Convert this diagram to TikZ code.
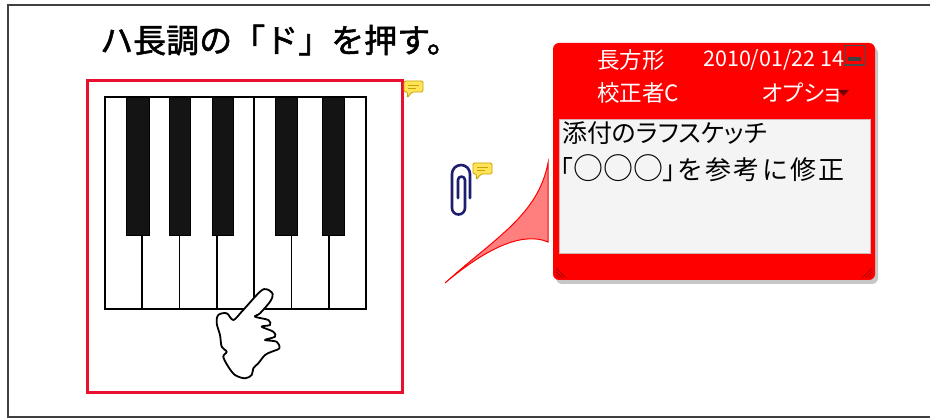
\documentclass[tikz,border=0pt]{standalone}
\usepackage{fontspec}
\newfontfamily\jp{Noto Sans CJK JP}
\newfontfamily\jpbold[FakeBold=1.6]{Noto Sans CJK JP}
\newfontfamily\jpp[CharacterWidth=AlternateProportional]{Noto Sans CJK JP}
\newfontfamily\jpwide[LetterSpace=9]{Noto Sans CJK JP}
\usetikzlibrary{calc}
\definecolor{framered}{HTML}{E8102E}
\definecolor{notered}{HTML}{FF0000}
\definecolor{notebody}{HTML}{F4F4F4}
\definecolor{clipblue}{HTML}{1E1E70}
\definecolor{bubblefill}{HTML}{FFE45A}
\definecolor{bubbleline}{HTML}{C9A100}
\definecolor{framegray}{HTML}{404040}
\definecolor{gripred}{HTML}{9A0000}
\begin{document}
\begin{tikzpicture}[x=1pt,y=-1pt,
  keyline/.style={draw=black,line width=1.7pt},
  blackkey/.style={fill=black!92,draw=black,line width=0.6pt},
  headtext/.style={text=white,font=\jp\fontsize{22.5}{22.5}\selectfont,anchor=west,inner sep=0pt},
  gripline/.style={draw=gripred,line width=0.7pt},
  cmticon/.pic={
    \fill[bubblefill,draw=bubbleline,line width=0.8pt,rounded corners=1.5pt]
      (0,0) -- (19,0) -- (19,11) -- (8,11) -- (3,17) -- (4,11) -- (0,11) -- cycle;
    \draw[bubbleline,line width=0.9pt] (4,4) -- (15,4) (4,7.5) -- (12,7.5);
  }]
\useasboundingbox (0,0) rectangle (930,419);
\clip (0,0) rectangle (930,419);
\fill[white] (0,0) rectangle (930,419);
% page frame
\draw[framegray,line width=1.6pt] (8,5) rectangle (960,417);

% heading
\node[anchor=west,inner sep=0pt,font=\jpbold\fontsize{33}{33}\selectfont] (title) at (100,40) {ハ長調の「ド」を押す。};

% red selection frame around the keyboard
\node[draw=framered,line width=3pt,minimum width=315pt,minimum height=312pt,inner sep=0pt] (frame) at (244.5,237) {};
\pic at (404,81) {cmticon};

% keyboard: seven white keys, five black keys
\draw[keyline] (105,97) rectangle (366,309);
\foreach \k in {1,2,3,5,6} \draw[keyline] ({105+\k*37.29},235) -- ({105+\k*37.29},309);
\draw[keyline] ({105+4*37.29},97) -- ({105+4*37.29},309);
\foreach \a/\b in {126.7/149, 169.3/190.7, 212.3/233.3, 275/297.3, 322.7/344.3}
  \fill[blackkey] (\a,97) rectangle (\b,235);

% pointing hand
\draw[fill=white,line width=1.8pt,line join=round] plot[smooth cycle,tension=0.55] coordinates {
 (266.7,289.3) (272.7,294) (270,301.7) (260,313.3) (255,316.7)
 (268.3,320) (270,325) (261.7,326.7) (273.3,331.7) (275,336.7) (265,340)
 (276.7,341.7) (279.3,348.3) (271.7,351.7) (265,355) (258.3,363.3)
 (253.3,368.3) (251.7,375) (245,378.3) (235,375) (228.3,366.7)
 (223.3,356.7) (226.7,351.7) (221.7,346.7) (220,335) (216.7,323.3)
 (218.3,315) (226.7,313.3) (233.3,320) (241.7,311.7) (260,291.7)};

% paper clip with its comment marker
\draw[clipblue,line width=2.6pt,line cap=round,line join=round]
  (458,198) -- (458,180) arc[start angle=180,end angle=360,radius=3.5]
  -- (465,208) arc[start angle=0,end angle=180,radius=6.5]
  -- (452,174) arc[start angle=180,end angle=360,radius=9]
  -- (470,198);
\pic at (473,163) {cmticon};

% note window
\fill[black,opacity=0.22,rounded corners=6pt] (556,47) rectangle (878,284);
\node[fill=notered,rounded corners=6pt,minimum width=322pt,minimum height=237pt,inner sep=0pt] (note) at (714,161.5) {};
\fill[notebody,draw=red!30!gray!45,line width=0.8pt] (559,119) rectangle (870,253);

% callout pointer
\coordinate (tip) at (445,283);
\path[fill=red,fill opacity=0.5,draw=notered,line width=1pt]
  (tip) .. controls (495,238) and (538,215) .. (548,163) -- (548,242)
  .. controls (525,232) and (490,245) .. (tip) -- cycle;

% header
\node[headtext] (shape) at (597,60) {長方形};
\node[headtext,font=\jp\fontsize{21.5}{21.5}\selectfont] (date) at (703,60) {2010/01/22 14};
\node[headtext] (author) at (597,93) {校正者C};
\node[headtext,font=\jpp\fontsize{22.5}{22.5}\selectfont] (opt) at (762,93) {オプショ};
\fill[black!55!red] (838,90) -- (849,90) -- (843.5,96) -- cycle;
\fill[notered] (844,45) rectangle (866,66);
\draw[black!70,line width=1.3pt] (844.5,45.5) rectangle (864.5,65);
\fill[black!75] (848,57) rectangle (861,61.5);

% memo text
\node[anchor=north west,inner sep=0pt,font=\jpp\fontsize{25}{33}\selectfont] (memo1) at (562,121) {添付のラフスケッチ};
\node[anchor=north west,inner sep=0pt,font=\jp\fontsize{26}{33}\selectfont] (memo2) at (560,154)
  {{\jpp 「}{\fontsize{30}{33}\selectfont ○○○}{\jpp 」}\kern1pt{\jpwide を参考に修正}};

% resize grips
\foreach \d in {0,3.5,7} {
  \draw[gripline] (556,{268+\d}) -- ({566-\d},278);
  \draw[gripline] ({862+\d},278) -- (872,{268+\d});
}
\end{tikzpicture}
\end{document}
